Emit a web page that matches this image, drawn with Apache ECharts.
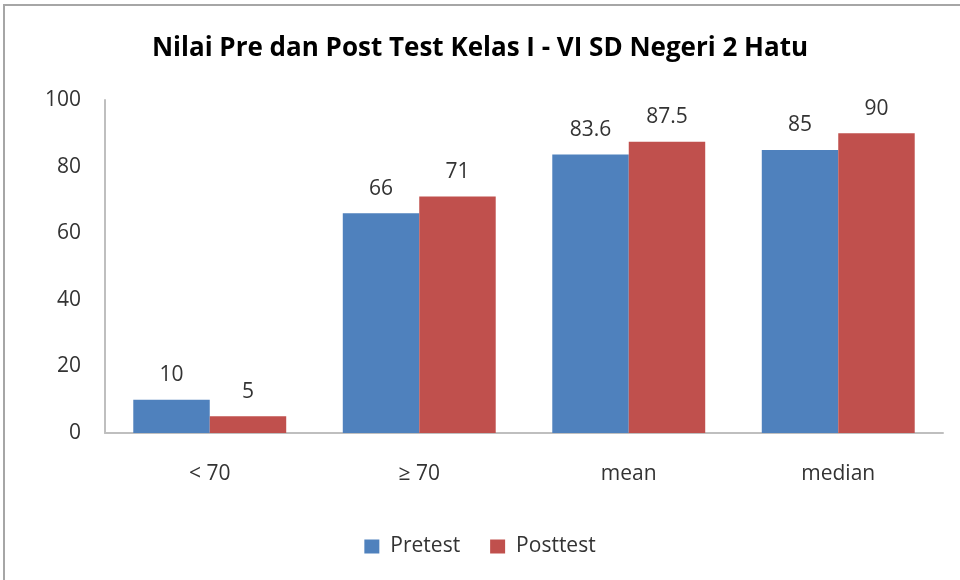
<!DOCTYPE html>
<html><head><meta charset="utf-8">
<script src="https://cdn.jsdelivr.net/npm/echarts@6/dist/echarts.min.js"></script>
<style>html,body{margin:0;padding:0;background:#fff}#c{width:960px;height:580px}</style>
</head><body><div id="c"></div>
<script>
const categories = ['< 70', '≥ 70', 'mean', 'median'];
const pretest = [10, 66, 83.6, 85];
const posttest = [5, 71, 87.5, 90];
const seriesNames = ['Pretest', 'Posttest'];
const yTicks = { min: 0, max: 100, interval: 20 };

const chart = echarts.init(document.getElementById('c'));
const font = '"Open Sans", Lato, sans-serif';
const txt = '#333333';
const lbl = { show: true, position: 'top', distance: 14, color: txt, fontSize: 21, fontFamily: font };
chart.setOption({
  animation: false,
  graphic: [{ type: 'rect', shape: { x: 4, y: 5, width: 1200, height: 1200 }, style: { fill: 'none', stroke: '#a6a6a6', lineWidth: 2 }, silent: true }],
  title: { text: 'Nilai Pre dan Post Test Kelas I - VI SD Negeri 2 Hatu', left: 'center', top: 31,
    textStyle: { fontFamily: font, fontWeight: 'bold', fontSize: 26, color: '#000' } },
  legend: { bottom: 18, left: 'center', itemWidth: 15, itemHeight: 14, itemGap: 30,
    textStyle: { fontFamily: font, fontSize: 21, color: txt, padding: [0, 0, 0, 6] }, icon: 'rect' },
  grid: { left: 105, right: 17, top: 100, bottom: 147 },
  xAxis: { type: 'category', data: categories,
    axisLine: { lineStyle: { color: '#bfbfbf', width: 2 } }, axisTick: { show: false },
    axisLabel: { fontFamily: font, fontSize: 21, color: txt, margin: 31 } },
  yAxis: { type: 'value', min: yTicks.min, max: yTicks.max, interval: yTicks.interval,
    axisLine: { show: true, lineStyle: { color: '#bfbfbf', width: 2 } }, axisTick: { show: false },
    splitLine: { show: false },
    axisLabel: { fontFamily: font, fontSize: 21, color: txt, margin: 24 } },
  series: [
    { name: seriesNames[0], type: 'bar', data: pretest, barGap: '0%', barCategoryGap: '27%',
      itemStyle: { color: '#4f81bd' }, label: lbl },
    { name: seriesNames[1], type: 'bar', data: posttest, barGap: '0%', barCategoryGap: '27%',
      itemStyle: { color: '#c0504d' }, label: lbl }
  ]
});
</script></body></html>
